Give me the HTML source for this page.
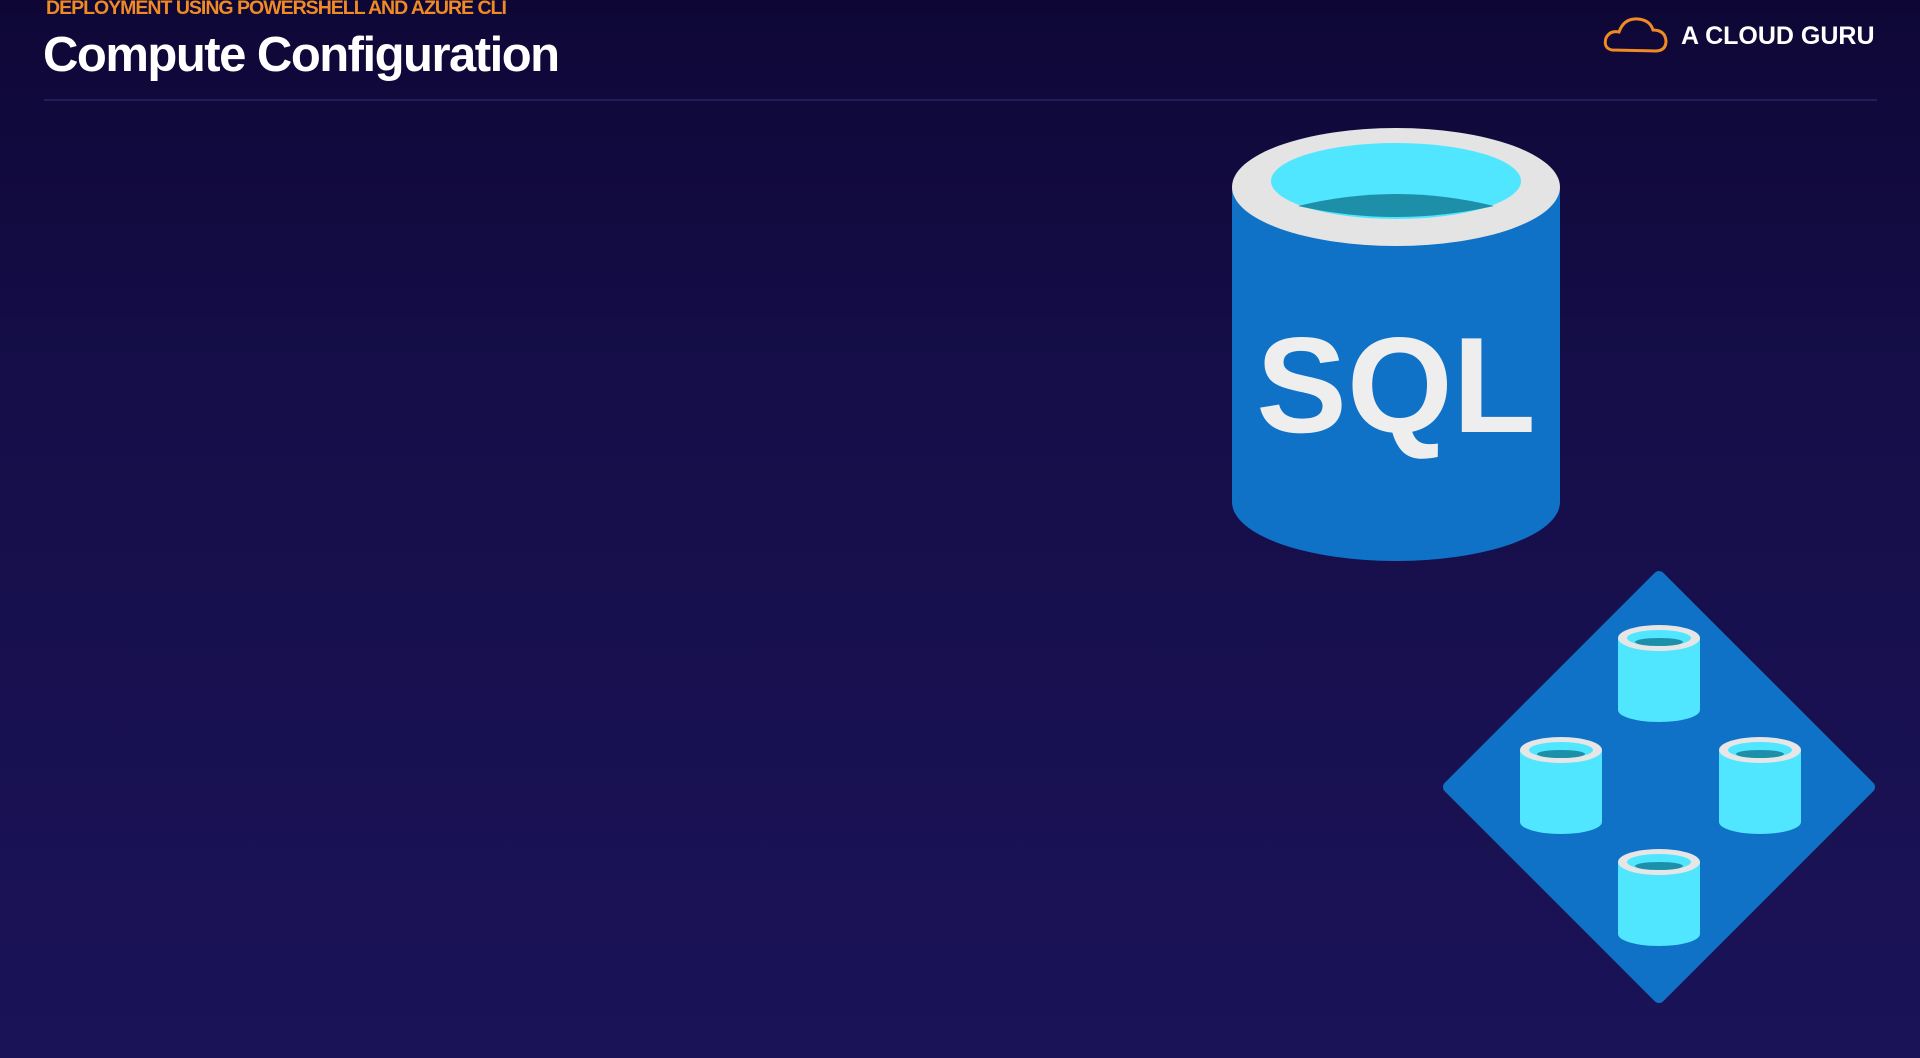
<!DOCTYPE html>
<html><head><meta charset="utf-8"><style>
html,body{margin:0;padding:0;}
body{width:1920px;height:1058px;overflow:hidden;background:linear-gradient(180deg,#0e0736 0%,#150e48 35%,#1b1358 100%);font-family:"Liberation Sans",sans-serif;position:relative;}
.sub{position:absolute;left:46px;top:-3px;color:#f08a24;font-weight:bold;font-size:19.5px;letter-spacing:-1px;}
.title{position:absolute;left:43px;top:27px;color:#fff;font-weight:bold;font-size:49px;letter-spacing:-1.5px;}
.line{position:absolute;left:44px;top:99px;width:1833px;height:2px;background:#241d5c;}
.logo{position:absolute;left:1681px;top:22px;color:#fff;font-weight:bold;font-size:25px;}
svg{position:absolute;left:0;top:0;}
</style></head><body>
<div class="sub">DEPLOYMENT USING POWERSHELL AND AZURE CLI</div>
<div class="title">Compute Configuration</div>
<div class="line"></div>
<div class="logo">A CLOUD GURU</div>
<svg width="1920" height="1058" viewBox="0 0 1920 1058">
<defs>
<g id="cyl">
<rect x="-41" y="0" width="82" height="72" fill="#50e6ff"/>
<ellipse cx="0" cy="72" rx="41" ry="12" fill="#50e6ff"/>
<ellipse cx="0" cy="0" rx="41" ry="13" fill="#e6e6e6"/>
<ellipse cx="0" cy="0" rx="32" ry="8" fill="#50e6ff"/>
<ellipse cx="0" cy="4" rx="24" ry="4" fill="#1e8fa8"/>
</g>
</defs>
<path d="M1612 50 Q1603 48 1606 38 Q1610 30 1619 32 Q1624 18 1638 19 Q1650 20 1653 30 Q1665 30 1666 41 Q1666 51 1655 51 Z" fill="none" stroke="#f08a24" stroke-width="3"/>
<rect x="1232" y="187" width="328" height="315" fill="#0f72c6"/>
<ellipse cx="1396" cy="502" rx="164" ry="59" fill="#0f72c6"/>
<ellipse cx="1396" cy="187" rx="164" ry="59" fill="#e4e4e4"/>
<ellipse cx="1396" cy="181" rx="125" ry="38" fill="#50e6ff"/>
<path d="M1298 206 Q1396 182 1494 206 Q1396 228 1298 206 Z" fill="#1e8fa8"/>
<text x="1396" y="432" text-anchor="middle" fill="#eeeeee" font-family="Liberation Sans,sans-serif" font-weight="bold" font-size="136">SQL</text>
<path d="M1659 577 L1869 787 L1659 997 L1449 787 Z" fill="#0f72c6" stroke="#0f72c6" stroke-width="12" stroke-linejoin="round"/>
<use href="#cyl" x="1659" y="638"/>
<use href="#cyl" x="1561" y="750"/>
<use href="#cyl" x="1760" y="750"/>
<use href="#cyl" x="1659" y="862"/>
</svg>
</body></html>
